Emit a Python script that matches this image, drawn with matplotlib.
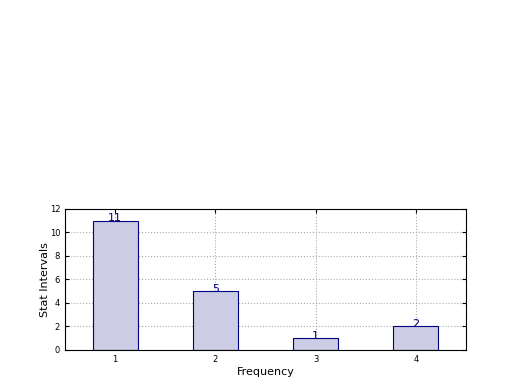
import matplotlib
matplotlib.use('Agg')
import matplotlib.pyplot as plt

freq = [1, 2, 3, 4]
counts = [11, 5, 1, 2]

fig = plt.figure(figsize=(5.2, 3.9), dpi=100)
ax = fig.add_axes([0.125, 0.1026, 0.771, 0.362])

ax.bar(freq, counts, width=0.45, align='center', color='#ccccE4', edgecolor='navy', linewidth=0.8, zorder=2)
for x, c in zip(freq, counts):
    ax.text(x, c + 0.2, str(c), ha='center', va='center', color='navy', fontsize=8)

ax.set_xlim(0.5, 4.5)
ax.set_ylim(0, 12)
ax.set_xticks(freq)
ax.set_yticks(range(0, 13, 2))
ax.tick_params(direction='in', top=True, right=True, labelsize=6, length=3)
ax.grid(True, linestyle=':', color='#aaaaaa', linewidth=0.8, zorder=0)
ax.set_axisbelow(True)
ax.set_xlabel('Frequency', fontsize=8, labelpad=2)
ax.set_ylabel('Stat Intervals', fontsize=8, labelpad=0)

fig.savefig('out.png', dpi=100)
